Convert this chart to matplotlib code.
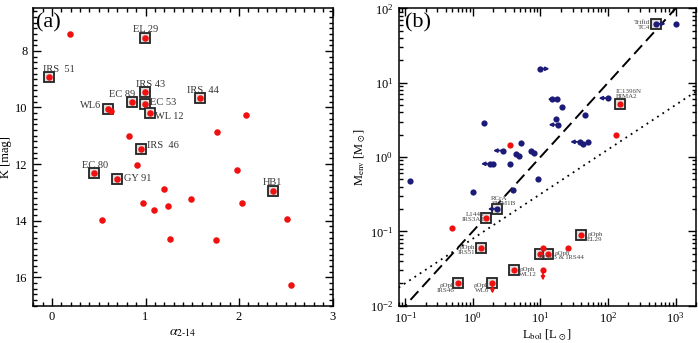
import numpy as np
import matplotlib.pyplot as plt
from matplotlib.ticker import MultipleLocator

plt.rcParams['font.family'] = ['Liberation Serif', 'DejaVu Serif']
plt.rcParams['mathtext.fontset'] = 'stix'

# ---- panel (a): K magnitude vs spectral index ----
a_names = ['EL 29', 'IRS  51', 'IRS 43', 'IRS  44', 'EC 89', 'EC 53', 'WL6',
           'WL 12', 'IRS  46', 'EC 80', 'GY 91', 'HB1']
a_alpha = [0.99, -0.03, 0.99, 1.58, 0.86, 0.99, 0.60, 1.05, 0.95, 0.45, 0.70, 2.36]
a_k = [7.54, 8.94, 9.47, 9.65, 9.80, 9.89, 10.04, 10.19, 11.46, 12.33, 12.52, 12.95]

alpha_other = [0.19, 0.63, 2.07, 1.76, 0.825, 0.91, 1.98, 1.20, 1.49, 0.97,
               2.03, 1.24, 1.09, 0.54, 2.51, 1.26, 1.75, 2.56]
k_other = [7.41, 10.13, 10.25, 10.88, 11.02, 12.05, 12.20, 12.87, 13.24, 13.38,
           13.38, 13.48, 13.61, 13.99, 13.95, 14.65, 14.69, 16.28]

# ---- panel (b): envelope mass vs bolometric luminosity ----
blue_L = [0.117, 0.99, 1.47, 1.82, 2.02, 2.29, 2.75, 3.6, 3.94, 4.4, 4.9, 5.16,
          7.2, 8.05, 9.2, 9.87, 15.0, 17.6, 20.9, 16.8, 18.2, 45.0, 38.0, 42.5,
          50.0, 100.0, 516.0, 1000.0]
blue_M = [0.48, 0.343, 2.86, 0.81, 0.81, 0.20, 1.22, 0.81, 0.365, 1.11, 1.03, 1.52,
          1.22, 1.12, 0.508, 15.4, 6.1, 6.0, 4.69, 3.2, 2.72, 3.66, 1.6, 1.51,
          1.6, 6.2, 62.0, 62.0]
# -1: upper limit on L (arrow left), +1: lower limit (arrow right), 0: none
blue_lim = [0, 0, 0, -1, 0, -1, -1, 0, 0, 0, 0, 0,
            0, 0, 0, 1, 0, -1, 0, 0, -1, 0, -1, 0,
            0, -1, 1, 0]

red_L = [3.56, 0.494, 1.59, 1.30, 0.594, 1.95, 4.07, 10.0, 12.9, 10.9, 10.9,
         25.6, 40.2, 148.0, 129.0]
red_M = [1.43, 0.11, 0.15, 0.06, 0.02, 0.02, 0.03, 0.05, 0.05, 0.06, 0.03,
         0.06, 0.09, 5.2, 1.95]
red_upper = [0, 0, 0, 0, 0, 1, 0, 0, 0, 0, 1, 0, 0, 0, 0]

b_names = ['Trifid\nTC4', 'IC1396N\nBIMA2', 'RCrA\nSMM1B', 'L1448\nIRS3A2',
           'ρOph\nIRS51', 'ρOph\nWL12', 'ρOph\nIRS46', 'ρOph\nWL6', 'ρOph\nEL29']
b_L = [516.0, 148.0, 2.29, 1.59, 1.30, 4.07, 0.594, 1.95, 40.2]
b_M = [62.0, 5.2, 0.20, 0.15, 0.06, 0.03, 0.02, 0.02, 0.09]
pair_L = [10.0, 12.9]
pair_M = [0.05, 0.05]
pair_name = 'ρOph\nIRS43 & IRS44'

line_L = [0.08, 2000.0]

RED = '#f01010'
BLUE = '#1c1c78'
px = 0.72  # pixels -> points at dpi 100

fig = plt.figure(figsize=(6.98, 3.43), dpi=100)
ax1 = fig.add_axes([0.0477, 0.109, 0.4287, 0.8665])
ax2 = fig.add_axes([0.5712, 0.109, 0.4259, 0.8665])


def style_axis(ax):
    ax.tick_params(which='both', direction='in', top=True, right=True,
                   labelsize=9, width=1.0, pad=4)
    ax.tick_params(which='major', length=5.5)
    ax.tick_params(which='minor', length=3)
    for s in ax.spines.values():
        s.set_linewidth(1.1)


# panel (a)
ax1.scatter(alpha_other, k_other, s=22, color=RED, zorder=3, linewidths=0)
ax1.scatter(a_alpha, a_k, s=22, color=RED, zorder=3, linewidths=0)
ax1.plot(a_alpha, a_k, 's', ms=7, mfc='#dddddd', mec='#222222', mew=1.3, zorder=2)

a_off = [(0.7, 8.7, 'center'), (-6, 8.3, 'left'), (-8.3, 8.3, 'left'),
         (-12.3, 7.3, 'left'), (3, 7.7, 'right'), (5.3, 1.7, 'left'),
         (-6.7, 3.3, 'right'), (5, -3.3, 'left'), (5.7, 3.7, 'left'),
         (0.7, 7.7, 'center'), (6.7, 0, 'left'), (0, 8, 'center')]
for name, x, y, (dx, dy, ha) in zip(a_names, a_alpha, a_k, a_off):
    ax1.annotate(name, (x, y), xytext=(dx * px, dy * px), textcoords='offset points',
                 ha=ha, va='center', fontsize=7.5, color='#333333')

ax1.set_xlim(-0.2, 3)
ax1.set_ylim(17, 6.5)
ax1.xaxis.set_major_locator(MultipleLocator(1))
ax1.xaxis.set_minor_locator(MultipleLocator(0.1))
ax1.yaxis.set_major_locator(MultipleLocator(2))
ax1.yaxis.set_minor_locator(MultipleLocator(0.2))
style_axis(ax1)
ax1.set_xlabel(r'$\alpha_{\mathrm{2\text{-}14}}$', fontsize=10, labelpad=2)
ax1.set_ylabel('K [mag]', fontsize=9, labelpad=2)
ax1.text(0.01, 0.985, '(a)', transform=ax1.transAxes, fontsize=16, va='top', ha='left')

# panel (b)
ll = np.array(line_L)
ax2.plot(ll, 0.1 * ll, color='black', lw=1.4, dashes=(6, 3), zorder=1)
ax2.plot(ll, 0.02 * (ll / 0.1) ** 0.6, color='black', lw=1.3, ls=(0, (1, 2.5)), zorder=1)

for L, M, lim in zip(blue_L, blue_M, blue_lim):
    if lim != 0:
        ax2.annotate('', xy=(L * 10 ** (0.14 * lim), M), xytext=(L, M),
                     arrowprops=dict(arrowstyle='-|>', color=BLUE, lw=1.3,
                                     mutation_scale=5, shrinkA=0, shrinkB=0))
ax2.scatter(blue_L, blue_M, s=20, color=BLUE, zorder=3, linewidths=0)

for L, M, up in zip(red_L, red_M, red_upper):
    if up:
        ax2.annotate('', xy=(L, M / 10 ** 0.14), xytext=(L, M),
                     arrowprops=dict(arrowstyle='-|>', color=RED, lw=1.3,
                                     mutation_scale=5, shrinkA=0, shrinkB=0))
ax2.scatter(red_L, red_M, s=20, color=RED, zorder=3, linewidths=0)

ax2.plot(b_L + pair_L, b_M + pair_M, 's', ms=7, mfc='#dddddd', mec='#222222',
         mew=1.3, zorder=2)

b_off = [(-6, -1, 'right', 'center'), (-4, 5, 'left', 'bottom'),
         (-6, 3, 'left', 'bottom'), (-2, 1, 'right', 'center'),
         (-5.5, 3, 'right', 'top'), (5, 3, 'left', 'top'),
         (-3, 0, 'right', 'top'), (-3, 0, 'right', 'top'), (6, 3, 'left', 'top')]
for name, L, M, (dx, dy, ha, va) in zip(b_names, b_L, b_M, b_off):
    ax2.annotate(name, (L, M), xytext=(dx * px, dy * px), textcoords='offset points',
                 ha=ha, va=va, fontsize=5, color='#444444', linespacing=0.95)
ax2.annotate(pair_name, (pair_L[1], pair_M[1]), xytext=(14 * px, 3 * px),
             textcoords='offset points', ha='center', va='top', fontsize=5,
             color='#444444', linespacing=0.95)

ax2.set_xscale('log')
ax2.set_yscale('log')
ax2.set_xlim(0.08, 2000)
ax2.set_ylim(0.01, 100)
style_axis(ax2)
ax2.set_xlabel(r'L$_{\rm bol}$ [L$_\odot$]', fontsize=9, labelpad=1)
ax2.set_ylabel(r'M$_{\rm env}$ [M$_\odot$]', fontsize=9, labelpad=1)
ax2.text(0.02, 0.985, '(b)', transform=ax2.transAxes, fontsize=16, va='top', ha='left')

fig.savefig('out.png', dpi=100)
